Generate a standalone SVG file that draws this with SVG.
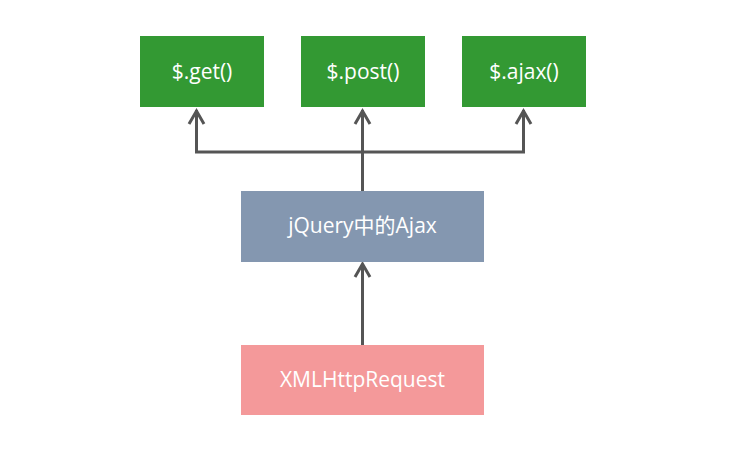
<svg xmlns="http://www.w3.org/2000/svg" width="753" height="449" viewBox="0 0 753 449">
<defs>
<style>
.lbl{font-family:"Open Sans","Noto Sans CJK SC","Liberation Sans",sans-serif;font-size:21px;fill:#ffffff;text-anchor:middle}
.g{fill:#339933}
.b{fill:#8497B0}
.p{fill:#F4999A}
.ln{fill:none;stroke:#555555;stroke-width:3;stroke-linejoin:miter}
</style>
</defs>
<rect width="753" height="449" fill="#ffffff"/>
<g id="connectors">
<path class="ln" d="M362.5 191 V110 M196.5 110 V152 H523.5 V110"/>
<path class="ln" d="M189 124 L196.5 111 L204 124 M355 124 L362.5 111 L370 124 M516 124 L523.5 111 L531 124"/>
<path class="ln" d="M362.5 345 V264"/>
<path class="ln" d="M355 277 L362.5 264 L370 277"/>
</g>
<g id="get"><rect class="g" x="140" y="36" width="124" height="71"/><text class="lbl" x="202" y="79">$.get()</text></g>
<g id="post"><rect class="g" x="301" y="36" width="124" height="71"/><text class="lbl" x="363" y="79">$.post()</text></g>
<g id="ajax"><rect class="g" x="462" y="36" width="124" height="71"/><text class="lbl" x="524" y="79">$.ajax()</text></g>
<g id="jquery"><rect class="b" x="241" y="191" width="243" height="71"/><text class="lbl" x="362.5" y="233">jQuery中的Ajax</text></g>
<g id="xhr"><rect class="p" x="241" y="345" width="243" height="70"/><text class="lbl" x="362.5" y="387">XMLHttpRequest</text></g>
</svg>
